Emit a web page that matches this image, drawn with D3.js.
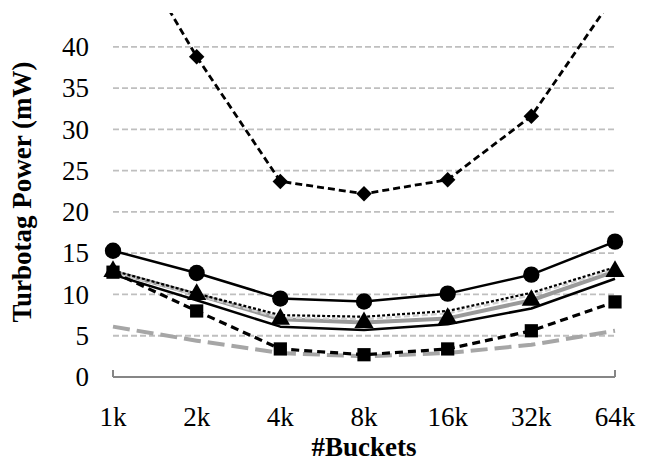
<!DOCTYPE html>
<html>
<head>
<meta charset="utf-8">
<script src="https://cdn.jsdelivr.net/npm/d3@7/dist/d3.min.js"></script>
<style>
  html, body { margin: 0; padding: 0; background: #fff; }
  svg { display: block; }
</style>
</head>
<body>
<svg id="chart" width="647" height="461"></svg>
<script>
// ---- data ----
const categories = ["1k", "2k", "4k", "8k", "16k", "32k", "64k"];
const yTicks = [0, 5, 10, 15, 20, 25, 30, 35, 40];

const diamondSeries  = [56.0, 38.8, 23.7, 22.2, 23.9, 31.6, 46.3];
const circleSeries   = [15.3, 12.6, 9.5, 9.15, 10.1, 12.4, 16.4];
const dottedSeries   = [12.9, 10.1, 7.5, 7.3, 8.0, 10.2, 13.3];
const lightSeries    = [12.7, 9.9, 7.2, 7.0, 7.7, 9.9, 13.1];
const triangleSeries = [12.8, 10.0, 7.0, 6.6, 7.1, 9.3, 12.8];
const lowerSeries    = [12.4, 9.3, 6.1, 5.7, 6.4, 8.3, 11.9];
const squareSeries   = [12.7, 8.0, 3.4, 2.7, 3.4, 5.6, 9.1];
const greySeries     = [6.1, 4.4, 2.9, 2.5, 2.9, 3.9, 5.6];

// ---- layout ----
const FONT = "'Liberation Serif', 'Times New Roman', Times, 'DejaVu Serif', serif";
const svg = d3.select("#chart");
const mLeft = 113, mRight = 615, mBottom = 377, mTop = 13;
const yMaxVisible = 44.1;

const x = d3.scalePoint().domain(categories).range([mLeft, mRight]);
const y = d3.scaleLinear().domain([0, yMaxVisible]).range([mBottom, mTop]);

svg.append("defs").append("clipPath").attr("id", "plotclip")
  .append("rect").attr("x", 0).attr("y", mTop).attr("width", 647).attr("height", 461 - mTop);

// gridlines
svg.append("g").selectAll("line")
  .data(yTicks.filter(d => d > 0))
  .join("line")
  .attr("x1", mLeft).attr("x2", mRight)
  .attr("y1", d => y(d)).attr("y2", d => y(d))
  .attr("stroke", "#bfbfbf").attr("stroke-width", 1.8)
  .attr("stroke-dasharray", "6,3");

// x axis line with end ticks
const xAxis = svg.append("g");
xAxis.append("line")
  .attr("x1", mLeft).attr("x2", mRight)
  .attr("y1", y(0)).attr("y2", y(0))
  .attr("stroke", "#868686").attr("stroke-width", 2);
xAxis.selectAll("line.tick")
  .data([categories[0], categories[categories.length - 1]])
  .join("line").attr("class", "tick")
  .attr("x1", d => x(d)).attr("x2", d => x(d))
  .attr("y1", y(0)).attr("y2", y(0) - 7)
  .attr("stroke", "#868686").attr("stroke-width", 2);

// y tick labels
svg.append("g").selectAll("text")
  .data(yTicks)
  .join("text")
  .attr("x", 89).attr("y", d => y(d))
  .attr("dy", "0.34em")
  .attr("text-anchor", "end")
  .attr("font-family", FONT)
  .attr("font-size", 27)
  .text(d => d);

// x tick labels
svg.append("g").selectAll("text")
  .data(categories)
  .join("text")
  .attr("x", d => x(d)).attr("y", 426)
  .attr("text-anchor", "middle")
  .attr("font-family", FONT)
  .attr("font-size", 27)
  .text(d => d);

// axis titles
svg.append("text")
  .attr("x", (mLeft + mRight) / 2).attr("y", 456)
  .attr("text-anchor", "middle")
  .attr("font-family", FONT)
  .attr("font-size", 27).attr("font-weight", "bold")
  .text("#Buckets");

svg.append("text")
  .attr("transform", `translate(31,${(mTop + mBottom) / 2 - 3}) rotate(-90)`)
  .attr("text-anchor", "middle")
  .attr("font-family", FONT)
  .attr("font-size", 27).attr("font-weight", "bold")
  .text("Turbotag Power (mW)");

// lines
const line = d3.line().x((d, i) => x(categories[i])).y(d => y(d));
const plot = svg.append("g").attr("clip-path", "url(#plotclip)");

function drawLine(data, stroke, width, dash) {
  plot.append("path")
    .attr("d", line(data))
    .attr("fill", "none")
    .attr("stroke", stroke)
    .attr("stroke-width", width)
    .attr("stroke-dasharray", dash || null)
    .attr("stroke-linejoin", "round");
}

drawLine(greySeries, "#a6a6a6", 4, "17,7");
drawLine(lowerSeries, "#000", 2.5);
drawLine(triangleSeries, "#9a9a9a", 4);
drawLine(lightSeries, "#d0d0d0", 2.2, "6,3");
drawLine(dottedSeries, "#000", 2.2, "3,2");
drawLine(squareSeries, "#000", 3.2, "8,5");
drawLine(circleSeries, "#000", 2.5);
drawLine(diamondSeries, "#000", 2.8, "7,4");

// markers
function drawMarkers(data, type, size, rot) {
  plot.append("g").selectAll("path")
    .data(data)
    .join("path")
    .attr("transform", (d, i) => `translate(${x(categories[i])},${y(d)}) rotate(${rot || 0})`)
    .attr("d", d3.symbol().type(type).size(size)())
    .attr("fill", "#000");
}
drawMarkers(squareSeries, d3.symbolSquare, 175);
drawMarkers(triangleSeries, d3.symbolTriangle, 160);
drawMarkers(circleSeries, d3.symbolCircle, 210);
drawMarkers(diamondSeries, d3.symbolSquare, 120, 45);
</script>
</body>
</html>
